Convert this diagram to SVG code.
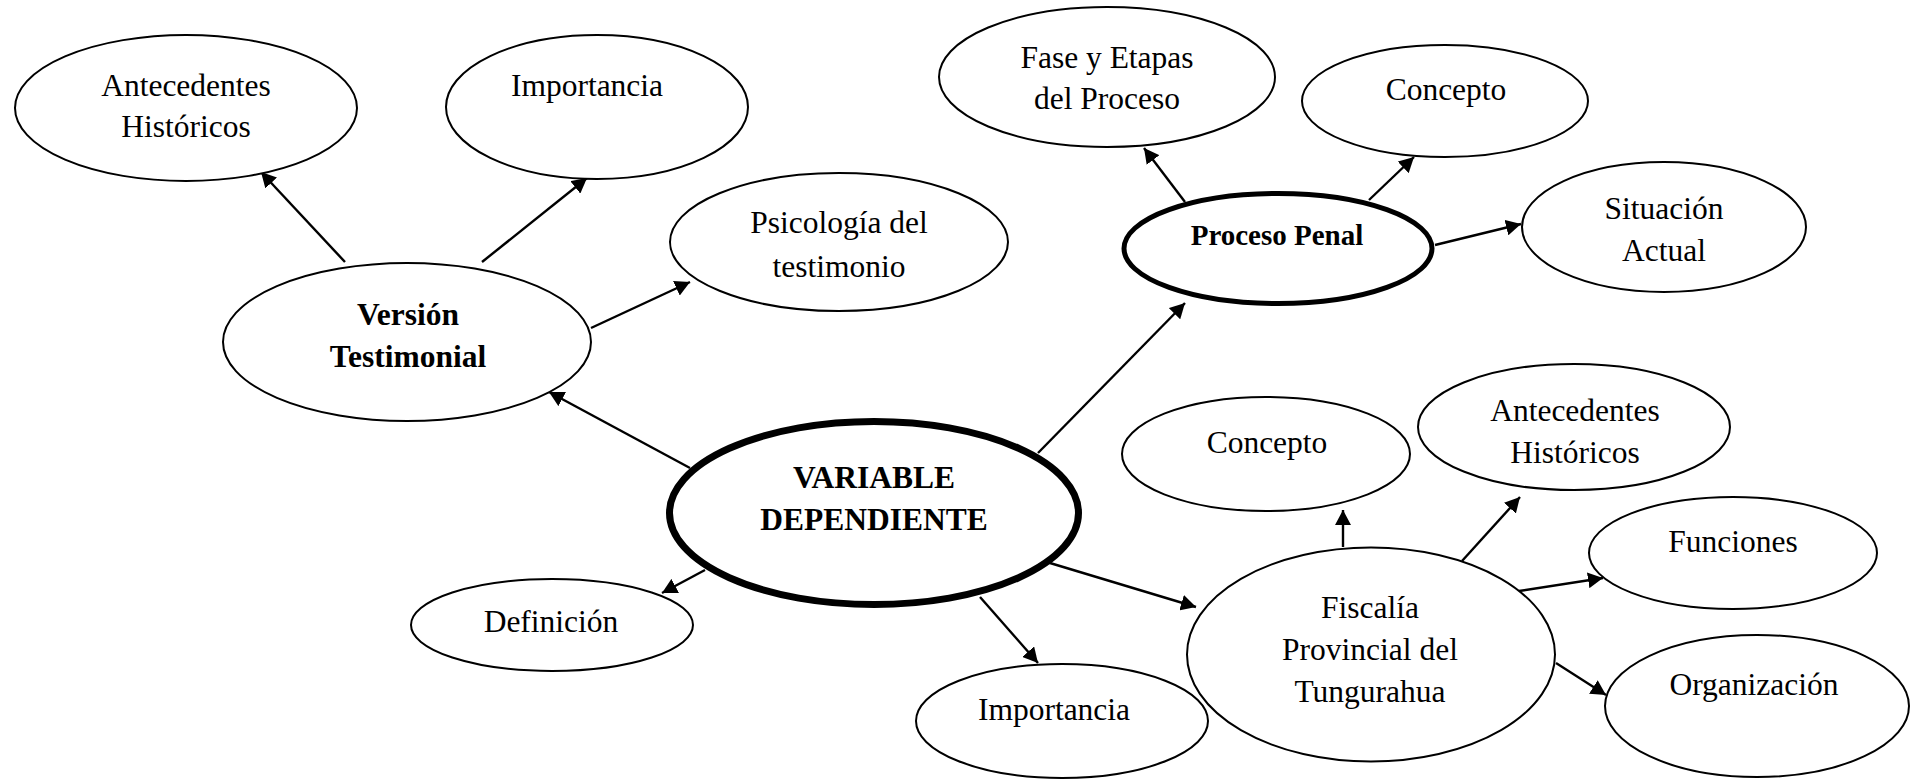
<svg xmlns="http://www.w3.org/2000/svg" width="1914" height="780" viewBox="0 0 1914 780">
<style>
.n ellipse{fill:#fff;stroke:#000;stroke-width:2}
.t{font-family:"Liberation Serif","Times New Roman",serif;font-size:31.5px;fill:#000;text-anchor:middle}
.b{font-weight:bold}
.c line{stroke:#000;stroke-width:2.4;marker-end:url(#ah)}
</style>
<defs>
<marker id="ah" viewBox="0 0 15 16" markerWidth="15" markerHeight="16" refX="15" refY="8" orient="auto" markerUnits="userSpaceOnUse">
<path d="M0,0 L15,8 L0,16 z" fill="#000"/>
</marker>
</defs>
<rect width="1914" height="780" fill="#fff"/>
<g id="connectors" class="c">
<line x1="345" y1="262" x2="261" y2="172"/>
<line x1="482" y1="262" x2="587" y2="178"/>
<line x1="591" y1="328" x2="690" y2="282"/>
<line x1="690" y1="468" x2="549" y2="392"/>
<line x1="705" y1="570" x2="662" y2="593"/>
<line x1="980" y1="597" x2="1038" y2="663"/>
<line x1="1040" y1="560" x2="1196" y2="607"/>
<line x1="1038" y1="453" x2="1185" y2="303"/>
<line x1="1185" y1="202" x2="1144" y2="148"/>
<line x1="1369" y1="200" x2="1414" y2="157"/>
<line x1="1435" y1="245" x2="1521" y2="224"/>
<line x1="1343" y1="547" x2="1343" y2="510"/>
<line x1="1462" y1="561" x2="1520" y2="497"/>
<line x1="1519" y1="591" x2="1603" y2="578"/>
<line x1="1556" y1="663" x2="1606" y2="695"/>
</g>
<g id="antecedentes1" class="n"><ellipse cx="186" cy="108" rx="171" ry="73"/><text class="t" x="186" y="96">Antecedentes</text><text class="t" x="186" y="137">Históricos</text></g>
<g id="importancia1" class="n"><ellipse cx="597" cy="107" rx="151" ry="72"/><text class="t" x="587" y="96">Importancia</text></g>
<g id="psicologia" class="n"><ellipse cx="839" cy="242" rx="169" ry="69"/><text class="t" x="839" y="233">Psicología del</text><text class="t" x="839" y="277">testimonio</text></g>
<g id="version" class="n"><ellipse cx="407" cy="342" rx="184" ry="79"/><text class="t b" x="408" y="325">Versión</text><text class="t b" x="408" y="367">Testimonial</text></g>
<g id="variable" class="n"><ellipse cx="874" cy="513" rx="204.5" ry="91.5" style="stroke-width:7"/><text class="t b" x="874" y="488">VARIABLE</text><text class="t b" x="874" y="530">DEPENDIENTE</text></g>
<g id="definicion" class="n"><ellipse cx="552" cy="625" rx="141" ry="46"/><text class="t" x="551" y="632">Definición</text></g>
<g id="importancia2" class="n"><ellipse cx="1062" cy="721" rx="146" ry="57"/><text class="t" x="1054" y="720">Importancia</text></g>
<g id="proceso" class="n"><ellipse cx="1278" cy="248.5" rx="154" ry="55" style="stroke-width:5"/><text class="t b" x="1277" y="245" style="font-size:29px">Proceso Penal</text></g>
<g id="fase" class="n"><ellipse cx="1107" cy="77" rx="168" ry="70"/><text class="t" x="1107" y="68">Fase y Etapas</text><text class="t" x="1107" y="109">del Proceso</text></g>
<g id="concepto1" class="n"><ellipse cx="1445" cy="101" rx="143" ry="56"/><text class="t" x="1446" y="100">Concepto</text></g>
<g id="situacion" class="n"><ellipse cx="1664" cy="227" rx="142" ry="65"/><text class="t" x="1664" y="219">Situación</text><text class="t" x="1664" y="261">Actual</text></g>
<g id="concepto2" class="n"><ellipse cx="1266" cy="454" rx="144" ry="57"/><text class="t" x="1267" y="453">Concepto</text></g>
<g id="antecedentes2" class="n"><ellipse cx="1574" cy="427" rx="156" ry="63"/><text class="t" x="1575" y="421">Antecedentes</text><text class="t" x="1575" y="463">Históricos</text></g>
<g id="funciones" class="n"><ellipse cx="1733" cy="553" rx="144" ry="56"/><text class="t" x="1733" y="552">Funciones</text></g>
<g id="organizacion" class="n"><ellipse cx="1757" cy="706" rx="152" ry="71"/><text class="t" x="1754" y="695">Organización</text></g>
<g id="fiscalia" class="n"><ellipse cx="1371" cy="654.5" rx="184" ry="107"/><text class="t" x="1370" y="618">Fiscalía</text><text class="t" x="1370" y="660">Provincial del</text><text class="t" x="1370" y="702">Tungurahua</text></g>
</svg>
